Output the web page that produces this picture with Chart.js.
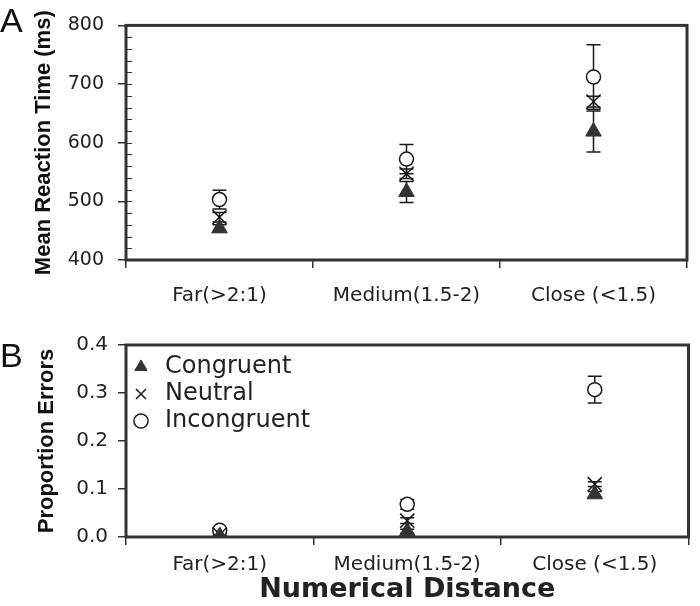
<!DOCTYPE html>
<html>
<head>
<meta charset="utf-8">
<script src="https://cdn.jsdelivr.net/npm/chart.js@4.4.1/dist/chart.umd.min.js"></script>
<style>
  body { margin: 0; background: #fff; }
  .wrap { position: relative; width: 700px; height: 606px; }
  .panel { position: absolute; left: 0; width: 700px; }
  .letter { position: absolute; left: 0; font: 34px 'Liberation Sans', Arial, sans-serif; line-height: 1; color: #111; }
</style>
</head>
<body>
<div class="wrap">
  <div class="panel" style="top:0;height:320px"><canvas id="chartA"></canvas></div>
  <div class="panel" style="top:320px;height:286px"><canvas id="chartB"></canvas></div>
  <div class="letter" style="top:3px">A</div>
  <div class="letter" style="top:338px">B</div>
</div>
<script>
// categories (numerical distance)
const categories = ['Far(>2:1)', 'Medium(1.5-2)', 'Close (<1.5)'];
const seriesNames = ['Congruent', 'Neutral', 'Incongruent'];

// panel A: mean reaction time (ms) and error bar half-widths
const rtCongruent = [454, 516, 619];
const rtCongruentErr = [6, 18, 35];
const rtNeutral = [473, 547, 670];
const rtNeutralErr = [8, 8, 9];
const rtIncongruent = [503, 572, 712];
const rtIncongruentErr = [16, 25, 55];

// panel B: proportion errors
const errCongruent = [0.002, 0.012, 0.089];
const errCongruentErr = [0.002, 0.004, 0.006];
const errNeutral = [0.005, 0.034, 0.110];
const errNeutralErr = [0.003, 0.006, 0.005];
const errIncongruent = [0.014, 0.068, 0.307];
const errIncongruentErr = [0.004, 0.010, 0.028];

const INK = '#1a1a1a';
const FRAME = '#333';

// error bars behind the markers
const errorBarPlugin = {
  id: 'errorBars',
  beforeDatasetsDraw(chart) {
    const ctx = chart.ctx;
    const y = chart.scales.y;
    ctx.save();
    ctx.strokeStyle = INK;
    ctx.lineWidth = 1.5;
    chart.data.datasets.forEach((ds, i) => {
      const meta = chart.getDatasetMeta(i);
      meta.data.forEach((pt, j) => {
        const e = ds.errorBars[j];
        const top = y.getPixelForValue(ds.data[j] + e);
        const bot = y.getPixelForValue(ds.data[j] - e);
        ctx.beginPath();
        ctx.moveTo(pt.x, top); ctx.lineTo(pt.x, bot);
        ctx.moveTo(pt.x - 7, top); ctx.lineTo(pt.x + 7, top);
        ctx.moveTo(pt.x - 7, bot); ctx.lineTo(pt.x + 7, bot);
        ctx.stroke();
      });
    });
    ctx.restore();
  }
};

// box around the plot area plus inward minor ticks
const framePlugin = {
  id: 'frame',
  afterDraw(chart, args, opts) {
    const { ctx, chartArea: a } = chart;
    const y = chart.scales.y;
    ctx.save();
    ctx.strokeStyle = FRAME;
    if (opts.minorStep) {
      ctx.lineWidth = 1.2;
      ctx.beginPath();
      for (let v = y.min + opts.minorStep; v < y.max; v += opts.minorStep) {
        const py = Math.round(y.getPixelForValue(v)) + 0.5;
        ctx.moveTo(a.left, py); ctx.lineTo(a.left + 6, py);
      }
      ctx.stroke();
    }
    ctx.lineWidth = 3;
    ctx.strokeRect(a.left, a.top, a.right - a.left, a.bottom - a.top);
    ctx.restore();
  }
};

function makeDatasets(cong, congErr, neut, neutErr, incong, incongErr) {
  return [
    { label: seriesNames[0], data: cong, errorBars: congErr, pointStyle: 'triangle', pointRadius: 9,
      backgroundColor: '#333', borderColor: '#333', borderWidth: 1, showLine: false },
    { label: seriesNames[1], data: neut, errorBars: neutErr, pointStyle: 'crossRot', pointRadius: 10,
      backgroundColor: INK, borderColor: INK, borderWidth: 1.5, showLine: false },
    { label: seriesNames[2], data: incong, errorBars: incongErr, pointStyle: 'circle', pointRadius: 7,
      backgroundColor: '#fff', borderColor: INK, borderWidth: 1.5, showLine: false }
  ];
}

function xAxis(height, pad, withTitle) {
  return {
    type: 'category',
    offset: true,
    border: { display: false },
    grid: { offset: true, drawOnChartArea: false, tickLength: 8, color: FRAME, lineWidth: 1.5 },
    ticks: { padding: pad, color: '#222', font: { family: 'DejaVu Sans', size: 20 } },
    title: {
      display: withTitle, text: 'Numerical Distance', color: '#222',
      font: { family: 'DejaVu Sans', size: 27, weight: 'bold' }, padding: { top: 0, bottom: 0 }
    },
    afterFit(scale) { scale.height = height; }
  };
}

function yAxis(min, max, step, title, titlePad, tickPad, tickSize, fmt) {
  return {
    min, max,
    border: { display: false },
    grid: { drawOnChartArea: false, tickLength: 8, color: FRAME, lineWidth: 1.5 },
    ticks: { stepSize: step, padding: tickPad, color: '#222', font: { family: 'DejaVu Sans', size: tickSize },
      callback: fmt },
    title: {
      display: true, text: title, color: '#111',
      font: { family: 'Liberation Sans', size: 22, weight: 'bold' }, padding: { top: titlePad, bottom: 0 }
    },
    afterFit(scale) { scale.width = 126; }
  };
}

new Chart(document.getElementById('chartA'), {
  type: 'line',
  data: {
    labels: categories,
    datasets: makeDatasets(rtCongruent, rtCongruentErr, rtNeutral, rtNeutralErr, rtIncongruent, rtIncongruentErr)
  },
  options: {
    responsive: true,
    maintainAspectRatio: false,
    animation: false,
    events: [],
    layout: { padding: { top: 15, right: 13, left: 0, bottom: 0 } },
    plugins: { legend: { display: false }, tooltip: { enabled: false }, frame: { minorStep: 20 } },
    scales: {
      x: xAxis(60, 16, false),
      y: yAxis(400, 800, 100, 'Mean Reaction Time (ms)', 31, 14, 19, v => v)
    }
  },
  plugins: [errorBarPlugin, framePlugin]
});

new Chart(document.getElementById('chartB'), {
  type: 'line',
  data: {
    labels: categories,
    datasets: makeDatasets(errCongruent, errCongruentErr, errNeutral, errNeutralErr, errIncongruent, errIncongruentErr)
  },
  options: {
    responsive: true,
    maintainAspectRatio: false,
    animation: false,
    events: [],
    layout: { padding: { top: 25, right: 3, left: 0, bottom: 0 } },
    plugins: {
      tooltip: { enabled: false },
      frame: { minorStep: 0 },
      legend: {
        position: 'chartArea',
        align: 'start',
        // vertical chartArea legend starts at the canvas top, so push it down into the plot
        title: { display: true, text: ' ', font: { size: 5 }, padding: { top: 26, bottom: 0 } },
        labels: {
          usePointStyle: true, boxWidth: 24, boxHeight: 10, padding: 3, color: '#222',
          font: { family: 'DejaVu Sans', size: 24 }
        }
      }
    },
    scales: {
      x: xAxis(69, 8, true),
      y: yAxis(0, 0.4, 0.1, 'Proportion Errors', 34, 10, 20, v => v.toFixed(1))
    }
  },
  plugins: [errorBarPlugin, framePlugin]
});
</script>
</body>
</html>
